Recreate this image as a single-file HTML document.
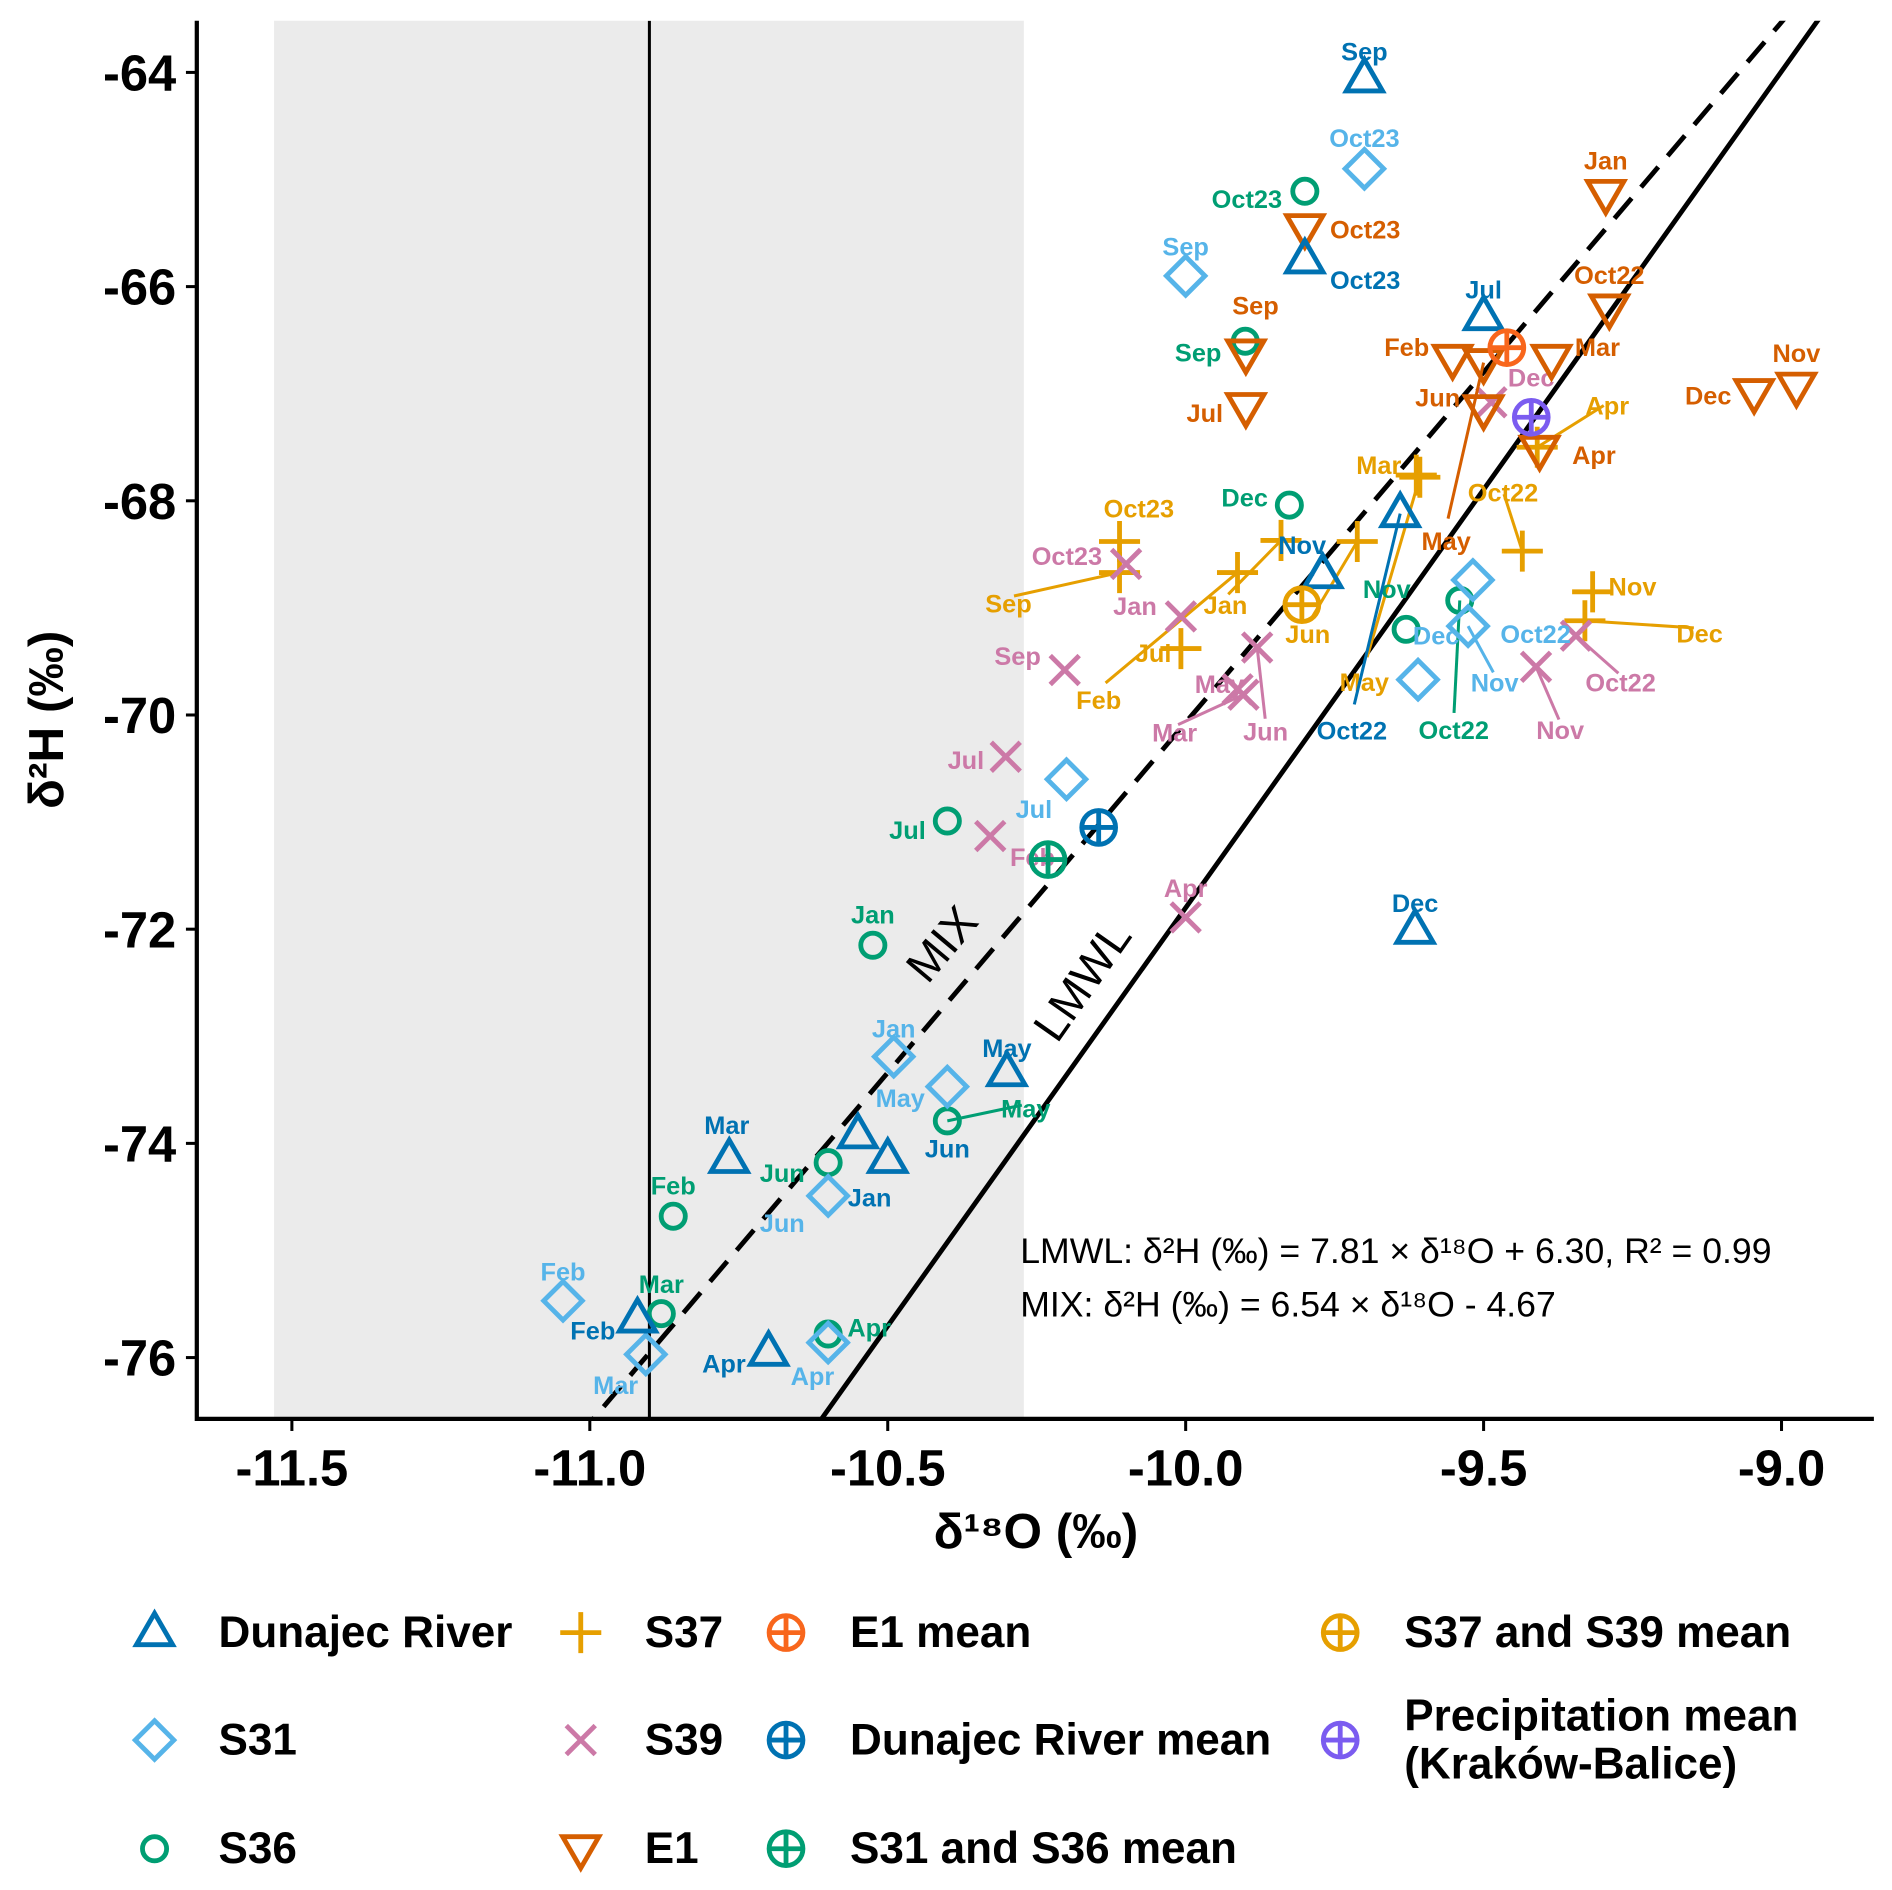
<!DOCTYPE html>
<html><head><meta charset="utf-8"><style>
html,body{margin:0;padding:0;background:#fff}
svg{display:block}
text{font-family:"Liberation Sans",Arial,sans-serif}
</style></head><body>
<svg id="chart" width="1892" height="1890" viewBox="0 0 1567 1565" xmlns="http://www.w3.org/2000/svg">
<defs><clipPath id="clip"><rect x="163" y="17" width="1392" height="1158"/></clipPath></defs>
<rect x="227" y="17" width="621" height="1158" fill="#ebebeb"/>
<g id="lines" clip-path="url(#clip)"></g>
<g id="marks"></g>
<g id="axes"></g>
<g id="legend"></g>
</svg>
<script>
const xTicks=[-11.5,-11.0,-10.5,-10.0,-9.5,-9.0];
const xTickLabels=["-11.5","-11.0","-10.5","-10.0","-9.5","-9.0"];
const yTicks=[-64,-66,-68,-70,-72,-74,-76];
const yTickLabels=["-64","-66","-68","-70","-72","-74","-76"];
const vlineX=-10.9;
const lmwl=[7.81,6.30];
const mix=[6.54,-4.67];

const dunMonths=["Sep","Oct23","Jul","Nov","Oct22","Dec","May","Jun","Jan","Mar","Feb","Apr"];
const dunX=[-9.70,-9.80,-9.50,-9.77,-9.64,-9.615,-10.30,-10.55,-10.50,-10.766,-10.92,-10.70];
const dunY=[-64.06,-65.75,-66.28,-68.69,-68.12,-72.01,-73.34,-73.92,-74.15,-74.15,-75.64,-75.95];
const dunLab=[[0,-22],[50,17],[0,-22],[-17,-24],[-40,180,1],[0,-22],[0,-20],[74,12],[-15,32],[-2,-28],[-37,10],[-37,10]];

const s31Months=["Oct23","Sep","Oct22","Nov","Dec","Jul","Jan","May","Jun","Feb","Mar","Apr"];
const s31X=[-9.70,-10.00,-9.518,-9.526,-9.61,-10.20,-10.49,-10.40,-10.60,-11.045,-10.906,-10.60];
const s31Y=[-64.90,-65.90,-68.74,-69.17,-69.67,-70.60,-73.19,-73.47,-74.49,-75.47,-75.97,-75.86];
const s31Lab=[[0,-25],[0,-24],[52,45],[22,47,1],[15,-36],[-27,25],[0,-23],[-39,10],[-38,23],[0,-24],[-25,26],[-13,28]];

const s36Months=["Oct23","Sep","Dec","Nov","Oct22","Jul","Jan","May","Jun","Feb","Mar","Apr"];
const s36X=[-9.80,-9.90,-9.826,-9.63,-9.54,-10.40,-10.525,-10.40,-10.60,-10.86,-10.88,-10.60];
const s36Y=[-65.11,-66.51,-68.04,-69.20,-68.93,-70.99,-72.15,-73.79,-74.18,-74.68,-75.59,-75.78];
const s36Lab=[[-48,7],[-39,10],[-37,-6],[-16,-33],[-5,108,1],[-33,8],[0,-25],[65,-10,1],[-38,9],[0,-25],[0,-24],[34,-5]];

const s37Months=["Oct23","Sep","Feb","Jan","Jul","Jun","Mar","May","Oct22","Apr","Nov","Dec"];
const s37X=[-10.111,-10.111,-9.913,-9.84,-10.008,-9.712,-9.613,-9.607,-9.435,-9.41,-9.317,-9.33];
const s37Y=[-68.38,-68.67,-68.67,-68.37,-69.38,-68.38,-67.76,-67.78,-68.47,-67.50,-68.85,-69.12];
const s37Lab=[[16,-27],[-92,26,1],[-115,106,1],[-46,54,1],[-23,4],[-41,77,1],[-31,-8],[-46,170,1],[-16,-48,1],[58,-34,1],[33,-4],[95,11,1]];

const s39Months=["Oct23","Jan","Sep","Jun","May","Mar","Jul","Feb","Apr","Oct22","Nov","Dec"];
const s39X=[-10.10,-10.008,-10.203,-9.88,-9.913,-9.903,-10.302,-10.328,-10.00,-9.345,-9.412,-9.487];
const s39Y=[-68.59,-69.08,-69.58,-69.37,-69.76,-69.81,-70.39,-71.13,-71.89,-69.26,-69.55,-67.08];
const s39Lab=[[-49,-6],[-38,-8],[-39,-11],[7,70,1],[-15,-4],[-57,32,1],[-33,3],[35,18],[0,-24],[37,39,1],[20,53,1],[33,-20]];

const e1Months=["Jan","Oct23","Oct22","Sep","Feb","May","Mar","Jun","Jul","Apr","Dec","Nov"];
const e1X=[-9.295,-9.80,-9.289,-9.899,-9.552,-9.50,-9.386,-9.50,-9.899,-9.406,-9.046,-8.975];
const e1Y=[-65.13,-65.45,-66.20,-66.62,-66.67,-66.71,-66.67,-67.14,-67.12,-67.52,-66.99,-66.93];
const e1Lab=[[0,-27],[50,2],[0,-27],[8,-39],[-38,-9],[-31,148,1],[38,-9],[-38,-9],[-34,6],[45,5],[-38,3],[0,-27]];

const meanNames=["E1 mean","Dunajec River mean","S31 and S36 mean","S37 and S39 mean","Precipitation mean"];
const meanX=[-9.461,-10.146,-10.231,-9.805,-9.42];
const meanY=[-66.57,-71.05,-71.35,-68.97,-67.22];

const NS="http://www.w3.org/2000/svg";
const X0=163,X1=1552,Y0=17,Y1=1175;
function sx(v){return 982+(v+10)*493.5;}
function sy(v){return 592-(v+70)*88.7;}
function mk(tag,attrs,parent){const e=document.createElementNS(NS,tag);for(const k in attrs)e.setAttribute(k,attrs[k]);if(parent)parent.appendChild(e);return e;}
const gL=document.getElementById('lines'),gM=document.getElementById('marks'),gA=document.getElementById('axes'),gG=document.getElementById('legend');

let vl=mk('line',{x1:sx(vlineX),x2:sx(vlineX),y1:Y0,y2:Y1,stroke:'#000','stroke-width':2.5},gL);


function regLine(c,dash,name){const xa=-11.2,xb=-8.8;const l=mk('line',{x1:sx(xa),y1:sy(c[0]*xa+c[1]),x2:sx(xb),y2:sy(c[0]*xb+c[1]),stroke:'#000','stroke-width':4},gL);if(dash)l.setAttribute('stroke-dasharray','22 12');

}
regLine(lmwl,false,'lmwl-line');
regLine(mix,true,'mix-line');

function shape(type,color,cx,cy,parent){
  const g=mk('g',{fill:'none',stroke:color,'stroke-width':4,'stroke-linejoin':'miter'},parent);
  if(type==='tri'){mk('path',{d:`M${cx},${cy-16} L${cx+15},${cy+10} L${cx-15},${cy+10} Z`},g);}
  else if(type==='dtri'){mk('path',{d:`M${cx},${cy+16} L${cx+15},${cy-10} L${cx-15},${cy-10} Z`},g);}
  else if(type==='dia'){mk('path',{d:`M${cx},${cy-16} L${cx+16},${cy} L${cx},${cy+16} L${cx-16},${cy} Z`},g);}
  else if(type==='circ'){mk('circle',{cx:cx,cy:cy,r:10},g);}
  else if(type==='plus'){mk('path',{d:`M${cx-17},${cy} H${cx+17} M${cx},${cy-17} V${cy+17}`},g);}
  else if(type==='x'){mk('path',{d:`M${cx-12},${cy-12} L${cx+12},${cy+12} M${cx+12},${cy-12} L${cx-12},${cy+12}`},g);}
  else if(type==='mean'){mk('circle',{cx:cx,cy:cy,r:14},g);mk('path',{d:`M${cx-14},${cy} H${cx+14} M${cx},${cy-14} V${cy+14}`},g);}
  return g;
}
function series(name,type,color,months,xs,ys,labs){
  const grp=mk('g',{},gM);
  
  
  months.forEach((m,i)=>{
    const px=sx(xs[i]),py=sy(ys[i]);const L=labs[i];
    if(L[2]){mk('line',{x1:px+L[0]*0.95,y1:py+L[1]*0.9-4,x2:px,y2:py,stroke:color,'stroke-width':2.5},grp);}
    const s=shape(type,color,px,py,grp);
    
    
    const t=mk('text',{x:px+L[0],y:py+L[1]+7,'text-anchor':'middle','font-size':21,'font-weight':'bold',fill:color},grp);
    t.textContent=m;
    
    
  });
}
series('s37','plus','#E69F00',s37Months,s37X,s37Y,s37Lab);
series('s39','x','#CC79A7',s39Months,s39X,s39Y,s39Lab);
series('s36','circ','#009E73',s36Months,s36X,s36Y,s36Lab);
series('s31','dia','#56B4E9',s31Months,s31X,s31Y,s31Lab);
series('e1','dtri','#D55E00',e1Months,e1X,e1Y,e1Lab);
series('dunajec','tri','#0072B2',dunMonths,dunX,dunY,dunLab);
const meanColors=['#F8661C','#0072B2','#009E73','#E69F00','#7B5CF0'];
meanNames.forEach((n,i)=>{const s=shape('mean',meanColors[i],sx(meanX[i]),sy(meanY[i]),gM);

});

let t=mk('text',{x:0,y:0,'font-size':38,transform:`translate(790,790) rotate(-50)`,'text-anchor':'middle'},gM);t.textContent='MIX';


t=mk('text',{x:0,y:0,'font-size':38,transform:`translate(907,820) rotate(-55)`,'text-anchor':'middle'},gM);t.textContent='LMWL';


t=mk('text',{x:845,y:1046,'font-size':29.5},gM);t.textContent='LMWL: δ²H (‰) = 7.81 × δ¹⁸O + 6.30, R² = 0.99';


t=mk('text',{x:845,y:1090,'font-size':29.5},gM);t.textContent='MIX: δ²H (‰) = 6.54 × δ¹⁸O - 4.67';



let ax=mk('path',{d:`M${X0},${Y0} V${Y1} H${X1}`,fill:'none',stroke:'#000','stroke-width':3.5},gA);


xTicks.forEach((v,i)=>{mk('line',{x1:sx(v),x2:sx(v),y1:Y1,y2:Y1+10,stroke:'#000','stroke-width':2.5},gA);
const tl=mk('text',{x:sx(v),y:1230,'text-anchor':'middle','font-size':42,'font-weight':'bold'},gA);tl.textContent=xTickLabels[i];

});
yTicks.forEach((v,i)=>{mk('line',{x1:X0-9,x2:X0,y1:sy(v),y2:sy(v),stroke:'#000','stroke-width':2.5},gA);
const tl=mk('text',{x:146,y:sy(v)+15,'text-anchor':'end','font-size':42,'font-weight':'bold'},gA);tl.textContent=yTickLabels[i];

});
t=mk('text',{x:858,y:1282,'text-anchor':'middle','font-size':41,'font-weight':'bold'},gA);t.textContent='δ¹⁸O (‰)';


t=mk('text',{x:0,y:0,'text-anchor':'middle','font-size':41,'font-weight':'bold',transform:'translate(52,596) rotate(-90)'},gA);t.textContent='δ²H (‰)';



const legItems=[
 ['tri','#0072B2',128,1352,'Dunajec River'],['dia','#56B4E9',128,1441,'S31'],['circ','#009E73',128,1531,'S36'],
 ['plus','#E69F00',481,1352,'S37'],['x','#CC79A7',481,1441,'S39'],['dtri','#D55E00',481,1531,'E1'],
 ['mean','#F8661C',651,1352,'E1 mean'],['mean','#0072B2',651,1441,'Dunajec River mean'],['mean','#009E73',651,1531,'S31 and S36 mean'],
 ['mean','#E69F00',1110,1352,'S37 and S39 mean'],['mean','#7B5CF0',1110,1441,'Precipitation mean|(Kraków-Balice)']];
legItems.forEach(it=>{
 const g=mk('g',{},gG);
 
 
 shape(it[0],it[1],it[2],it[3],g);
 const lines=it[4].split('|');
 const tt=mk('text',{x:it[2]+53,y:lines.length>1?it[3]-8:it[3]+12,'font-size':36.5,'font-weight':'bold'},g);
 lines.forEach((ln,j)=>{const sp=mk('tspan',{x:it[2]+53,dy:j?40:0},tt);sp.textContent=ln;});
});
</script>
</body></html>
